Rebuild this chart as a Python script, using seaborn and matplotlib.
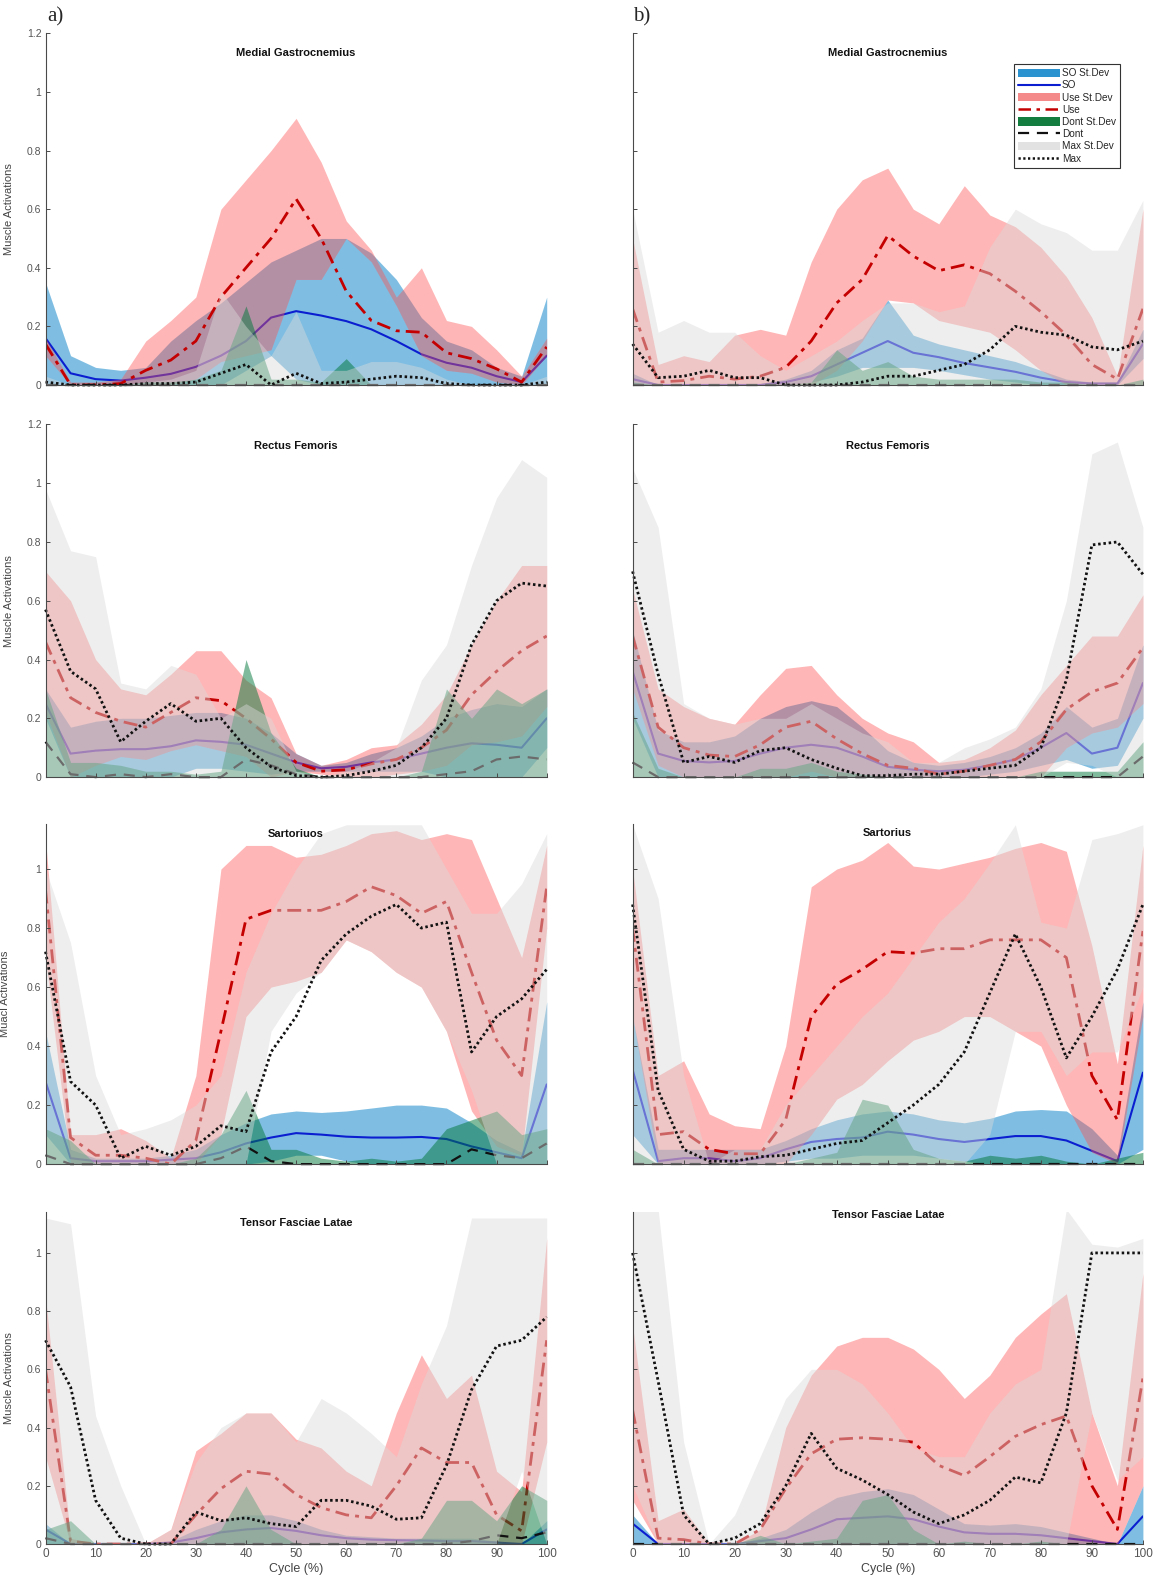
import numpy as np
import pandas as pd
import matplotlib
matplotlib.use("Agg")
import matplotlib.pyplot as plt
from matplotlib.patches import Patch
from matplotlib.lines import Line2D
from matplotlib.ticker import FuncFormatter
import seaborn as sns

# gait cycle samples (%)
cycle = [0, 5, 10, 15, 20, 25, 30, 35, 40, 45, 50, 55, 60, 65, 70, 75, 80, 85, 90, 95, 100]

# ---------------- Medial Gastrocnemius (a) ----------------
gas_a_so     = [0.16, 0.04, 0.02, 0.015, 0.025, 0.038, 0.062, 0.10, 0.15, 0.23, 0.252, 0.237, 0.218, 0.19, 0.15, 0.105, 0.076, 0.059, 0.03, 0.01, 0.10]
gas_a_so_lo  = [0.0, 0.0, 0.0, 0.0, 0.0, 0.0, 0.0, 0.0, 0.05, 0.10, 0.02, 0.0, 0.0, 0.0, 0.0, 0.0, 0.0, 0.0, 0.0, 0.0, 0.0]
gas_a_so_hi  = [0.35, 0.10, 0.06, 0.05, 0.06, 0.15, 0.22, 0.28, 0.35, 0.42, 0.46, 0.50, 0.50, 0.45, 0.36, 0.23, 0.15, 0.12, 0.06, 0.03, 0.30]
gas_a_use    = [0.14, 0.0, 0.0, 0.005, 0.05, 0.085, 0.15, 0.30, 0.40, 0.50, 0.635, 0.50, 0.32, 0.22, 0.185, 0.18, 0.11, 0.09, 0.055, 0.01, 0.13]
gas_a_use_lo = [0.10, 0.0, 0.0, 0.0, 0.0, 0.0, 0.02, 0.08, 0.10, 0.12, 0.36, 0.36, 0.50, 0.42, 0.27, 0.10, 0.05, 0.04, 0.01, 0.0, 0.10]
gas_a_use_hi = [0.16, 0.01, 0.01, 0.02, 0.15, 0.22, 0.30, 0.60, 0.70, 0.80, 0.91, 0.76, 0.56, 0.46, 0.30, 0.40, 0.22, 0.20, 0.12, 0.03, 0.16]
gas_a_dont    = [0.0, 0.0, 0.0, 0.0, 0.0, 0.0, 0.0, 0.0, 0.0, 0.0, 0.0, 0.0, 0.0, 0.0, 0.0, 0.0, 0.0, 0.0, 0.0, 0.0, 0.0]
gas_a_dont_hi = [0.0, 0.0, 0.0, 0.0, 0.01, 0.01, 0.02, 0.05, 0.27, 0.02, 0.02, 0.01, 0.09, 0.0, 0.0, 0.0, 0.0, 0.0, 0.0, 0.0, 0.0]
gas_a_max    = [0.01, 0.0, 0.0, 0.0, 0.005, 0.005, 0.01, 0.04, 0.07, 0.0, 0.04, 0.005, 0.01, 0.02, 0.03, 0.025, 0.005, 0.0, 0.0, 0.0, 0.01]
gas_a_max_lo = [0.0, 0.0, 0.0, 0.0, 0.0, 0.0, 0.0, 0.0, 0.0, 0.0, 0.0, 0.0, 0.0, 0.0, 0.0, 0.0, 0.0, 0.0, 0.0, 0.0, 0.0]
gas_a_max_hi = [0.03, 0.0, 0.0, 0.0, 0.01, 0.02, 0.05, 0.32, 0.20, 0.10, 0.25, 0.05, 0.05, 0.08, 0.08, 0.06, 0.02, 0.0, 0.0, 0.0, 0.03]

# ---------------- Medial Gastrocnemius (b) ----------------
gas_b_so     = [0.02, 0.0, 0.0, 0.0, 0.0, 0.0, 0.01, 0.03, 0.07, 0.11, 0.15, 0.11, 0.095, 0.075, 0.06, 0.045, 0.025, 0.01, 0.005, 0.005, 0.14]
gas_b_so_lo  = [0.0, 0.0, 0.0, 0.0, 0.0, 0.0, 0.0, 0.01, 0.03, 0.06, 0.06, 0.06, 0.05, 0.035, 0.02, 0.01, 0.0, 0.0, 0.0, 0.0, 0.09]
gas_b_so_hi  = [0.04, 0.0, 0.0, 0.0, 0.0, 0.005, 0.02, 0.05, 0.12, 0.16, 0.29, 0.17, 0.14, 0.12, 0.10, 0.08, 0.05, 0.02, 0.01, 0.01, 0.19]
gas_b_use    = [0.26, 0.01, 0.015, 0.03, 0.02, 0.03, 0.06, 0.15, 0.28, 0.36, 0.51, 0.44, 0.39, 0.41, 0.38, 0.32, 0.25, 0.17, 0.07, 0.02, 0.26]
gas_b_use_lo = [0.0, 0.0, 0.0, 0.0, 0.0, 0.0, 0.0, 0.0, 0.05, 0.15, 0.29, 0.28, 0.22, 0.20, 0.18, 0.12, 0.05, 0.0, 0.0, 0.0, 0.0]
gas_b_use_hi = [0.50, 0.07, 0.10, 0.08, 0.17, 0.19, 0.17, 0.42, 0.60, 0.70, 0.74, 0.60, 0.55, 0.68, 0.58, 0.54, 0.47, 0.37, 0.23, 0.03, 0.60]
gas_b_dont    = [0.0, 0.0, 0.0, 0.0, 0.0, 0.0, 0.0, 0.0, 0.0, 0.0, 0.0, 0.0, 0.0, 0.0, 0.0, 0.0, 0.0, 0.0, 0.0, 0.0, 0.0]
gas_b_dont_hi = [0.01, 0.0, 0.0, 0.0, 0.0, 0.0, 0.0, 0.01, 0.12, 0.05, 0.08, 0.03, 0.02, 0.02, 0.02, 0.02, 0.01, 0.01, 0.0, 0.0, 0.02]
gas_b_max    = [0.14, 0.025, 0.03, 0.05, 0.025, 0.025, 0.0, 0.0, 0.0, 0.01, 0.03, 0.03, 0.05, 0.07, 0.12, 0.20, 0.18, 0.17, 0.13, 0.12, 0.15]
gas_b_max_lo = [0.0, 0.0, 0.0, 0.0, 0.0, 0.0, 0.0, 0.0, 0.0, 0.0, 0.0, 0.0, 0.0, 0.0, 0.0, 0.0, 0.0, 0.0, 0.0, 0.0, 0.0]
gas_b_max_hi = [0.60, 0.18, 0.22, 0.18, 0.18, 0.10, 0.05, 0.10, 0.15, 0.22, 0.28, 0.28, 0.25, 0.27, 0.47, 0.60, 0.55, 0.52, 0.46, 0.46, 0.63]

# ---------------- Rectus Femoris (a) ----------------
rf_a_so     = [0.25, 0.08, 0.09, 0.095, 0.095, 0.105, 0.125, 0.12, 0.11, 0.08, 0.05, 0.03, 0.035, 0.05, 0.06, 0.08, 0.10, 0.115, 0.11, 0.10, 0.20]
rf_a_so_lo  = [0.20, 0.0, 0.0, 0.0, 0.0, 0.0, 0.03, 0.03, 0.02, 0.01, 0.02, 0.02, 0.02, 0.02, 0.02, 0.02, 0.0, 0.0, 0.0, 0.0, 0.10]
rf_a_so_hi  = [0.30, 0.17, 0.19, 0.20, 0.20, 0.21, 0.22, 0.22, 0.20, 0.15, 0.08, 0.04, 0.05, 0.08, 0.10, 0.14, 0.20, 0.23, 0.25, 0.24, 0.30]
rf_a_use    = [0.46, 0.27, 0.22, 0.19, 0.17, 0.22, 0.27, 0.26, 0.20, 0.13, 0.05, 0.02, 0.025, 0.045, 0.06, 0.10, 0.16, 0.28, 0.36, 0.43, 0.48]
rf_a_use_lo = [0.22, 0.0, 0.04, 0.07, 0.06, 0.09, 0.11, 0.09, 0.07, 0.0, 0.02, 0.01, 0.0, 0.0, 0.01, 0.02, 0.04, 0.11, 0.12, 0.14, 0.24]
rf_a_use_hi = [0.70, 0.60, 0.40, 0.30, 0.28, 0.35, 0.43, 0.43, 0.33, 0.27, 0.08, 0.04, 0.06, 0.10, 0.11, 0.18, 0.28, 0.45, 0.60, 0.72, 0.72]
rf_a_dont    = [0.12, 0.01, 0.0, 0.01, 0.0, 0.01, 0.0, 0.0, 0.06, 0.04, 0.01, 0.0, 0.0, 0.0, 0.0, 0.0, 0.01, 0.02, 0.06, 0.07, 0.06]
rf_a_dont_hi = [0.30, 0.05, 0.05, 0.04, 0.02, 0.02, 0.01, 0.02, 0.40, 0.15, 0.03, 0.0, 0.0, 0.0, 0.0, 0.02, 0.30, 0.20, 0.30, 0.25, 0.30]
rf_a_max    = [0.57, 0.36, 0.30, 0.12, 0.19, 0.25, 0.19, 0.20, 0.10, 0.035, 0.005, 0.0, 0.005, 0.02, 0.04, 0.10, 0.20, 0.45, 0.60, 0.66, 0.65]
rf_a_max_lo = [0.0, 0.0, 0.0, 0.0, 0.0, 0.0, 0.0, 0.0, 0.0, 0.0, 0.0, 0.0, 0.0, 0.0, 0.0, 0.0, 0.0, 0.0, 0.0, 0.0, 0.0]
rf_a_max_hi = [0.98, 0.77, 0.75, 0.32, 0.30, 0.38, 0.35, 0.20, 0.25, 0.20, 0.02, 0.0, 0.02, 0.05, 0.10, 0.33, 0.45, 0.72, 0.95, 1.08, 1.02]

# ---------------- Rectus Femoris (b) ----------------
rf_b_so     = [0.36, 0.08, 0.055, 0.05, 0.055, 0.08, 0.10, 0.11, 0.10, 0.07, 0.035, 0.025, 0.02, 0.025, 0.04, 0.06, 0.10, 0.15, 0.08, 0.10, 0.32]
rf_b_so_lo  = [0.20, 0.0, 0.0, 0.0, 0.0, 0.0, 0.0, 0.0, 0.0, 0.0, 0.0, 0.0, 0.0, 0.0, 0.01, 0.02, 0.04, 0.06, 0.03, 0.04, 0.20]
rf_b_so_hi  = [0.50, 0.16, 0.12, 0.12, 0.14, 0.20, 0.24, 0.26, 0.24, 0.17, 0.09, 0.05, 0.04, 0.05, 0.07, 0.10, 0.15, 0.24, 0.17, 0.20, 0.45]
rf_b_use    = [0.48, 0.17, 0.10, 0.075, 0.07, 0.11, 0.17, 0.19, 0.13, 0.08, 0.04, 0.03, 0.01, 0.02, 0.04, 0.06, 0.12, 0.23, 0.29, 0.32, 0.44]
rf_b_use_lo = [0.30, 0.04, 0.0, 0.0, 0.0, 0.0, 0.0, 0.02, 0.0, 0.0, 0.0, 0.0, 0.0, 0.0, 0.0, 0.0, 0.0, 0.10, 0.15, 0.17, 0.25]
rf_b_use_hi = [0.64, 0.30, 0.24, 0.20, 0.18, 0.28, 0.37, 0.38, 0.28, 0.20, 0.15, 0.12, 0.05, 0.06, 0.10, 0.16, 0.28, 0.38, 0.48, 0.48, 0.62]
rf_b_dont    = [0.05, 0.0, 0.0, 0.0, 0.0, 0.0, 0.0, 0.0, 0.0, 0.0, 0.0, 0.0, 0.0, 0.0, 0.0, 0.0, 0.0, 0.0, 0.0, 0.0, 0.07]
rf_b_dont_hi = [0.22, 0.03, 0.0, 0.0, 0.0, 0.03, 0.03, 0.05, 0.02, 0.01, 0.0, 0.0, 0.0, 0.0, 0.0, 0.0, 0.02, 0.02, 0.02, 0.02, 0.12]
rf_b_max    = [0.70, 0.35, 0.05, 0.07, 0.05, 0.09, 0.10, 0.06, 0.03, 0.005, 0.005, 0.01, 0.01, 0.02, 0.03, 0.04, 0.10, 0.33, 0.79, 0.80, 0.69]
rf_b_max_lo = [0.0, 0.0, 0.0, 0.0, 0.0, 0.0, 0.0, 0.0, 0.0, 0.0, 0.0, 0.0, 0.0, 0.0, 0.0, 0.0, 0.0, 0.05, 0.04, 0.0, 0.0]
rf_b_max_hi = [1.05, 0.85, 0.25, 0.20, 0.18, 0.20, 0.20, 0.25, 0.20, 0.15, 0.12, 0.05, 0.05, 0.10, 0.13, 0.17, 0.30, 0.60, 1.10, 1.14, 0.85]

# ---------------- Sartorius (a) ----------------
sar_a_so     = [0.28, 0.02, 0.01, 0.01, 0.01, 0.015, 0.02, 0.04, 0.07, 0.09, 0.105, 0.10, 0.093, 0.09, 0.09, 0.092, 0.085, 0.06, 0.04, 0.02, 0.27]
sar_a_so_lo  = [0.10, 0.0, 0.0, 0.0, 0.0, 0.0, 0.0, 0.0, 0.0, 0.01, 0.03, 0.03, 0.01, 0.0, 0.0, 0.0, 0.0, 0.0, 0.0, 0.0, 0.0]
sar_a_so_hi  = [0.45, 0.05, 0.02, 0.02, 0.02, 0.03, 0.05, 0.10, 0.14, 0.17, 0.18, 0.175, 0.18, 0.19, 0.20, 0.20, 0.19, 0.14, 0.08, 0.04, 0.55]
sar_a_use    = [0.93, 0.09, 0.03, 0.03, 0.02, 0.0, 0.08, 0.45, 0.83, 0.86, 0.86, 0.86, 0.89, 0.94, 0.91, 0.85, 0.89, 0.65, 0.42, 0.30, 0.94]
sar_a_use_lo = [0.70, 0.0, 0.0, 0.0, 0.0, 0.0, 0.0, 0.10, 0.50, 0.60, 0.62, 0.65, 0.76, 0.72, 0.65, 0.60, 0.45, 0.18, 0.06, 0.03, 0.80]
sar_a_use_hi = [1.10, 0.10, 0.10, 0.12, 0.08, 0.02, 0.30, 1.00, 1.08, 1.08, 1.04, 1.05, 1.08, 1.12, 1.13, 1.10, 1.12, 1.10, 0.90, 0.70, 1.08]
sar_a_dont    = [0.03, 0.0, 0.0, 0.0, 0.0, 0.0, 0.0, 0.02, 0.06, 0.01, 0.0, 0.0, 0.0, 0.0, 0.0, 0.0, 0.0, 0.05, 0.03, 0.02, 0.07]
sar_a_dont_hi = [0.12, 0.08, 0.0, 0.0, 0.0, 0.0, 0.02, 0.10, 0.25, 0.05, 0.05, 0.02, 0.01, 0.02, 0.01, 0.02, 0.12, 0.15, 0.18, 0.10, 0.12]
sar_a_max    = [0.72, 0.28, 0.20, 0.02, 0.06, 0.03, 0.06, 0.13, 0.11, 0.38, 0.50, 0.69, 0.78, 0.84, 0.88, 0.80, 0.82, 0.38, 0.50, 0.56, 0.66]
sar_a_max_lo = [0.0, 0.0, 0.0, 0.0, 0.0, 0.0, 0.0, 0.0, 0.0, 0.45, 0.58, 0.65, 0.76, 0.72, 0.65, 0.60, 0.45, 0.25, 0.0, 0.0, 0.0]
sar_a_max_hi = [1.00, 0.75, 0.30, 0.10, 0.12, 0.15, 0.20, 0.30, 0.65, 0.85, 1.00, 1.12, 1.15, 1.15, 1.15, 1.15, 1.00, 0.85, 0.85, 0.95, 1.12]

# ---------------- Sartorius (b) ----------------
sar_b_so     = [0.32, 0.01, 0.02, 0.02, 0.01, 0.02, 0.05, 0.075, 0.085, 0.09, 0.11, 0.10, 0.085, 0.075, 0.085, 0.095, 0.095, 0.08, 0.045, 0.01, 0.31]
sar_b_so_lo  = [0.10, 0.0, 0.0, 0.0, 0.0, 0.0, 0.01, 0.02, 0.02, 0.03, 0.03, 0.03, 0.02, 0.01, 0.0, 0.0, 0.0, 0.0, 0.0, 0.0, 0.05]
sar_b_so_hi  = [0.50, 0.05, 0.05, 0.05, 0.05, 0.05, 0.08, 0.12, 0.15, 0.17, 0.18, 0.17, 0.15, 0.14, 0.155, 0.18, 0.185, 0.18, 0.12, 0.03, 0.55]
sar_b_use    = [0.80, 0.10, 0.11, 0.05, 0.035, 0.035, 0.15, 0.50, 0.61, 0.66, 0.72, 0.715, 0.73, 0.73, 0.76, 0.76, 0.76, 0.70, 0.30, 0.15, 0.79]
sar_b_use_lo = [0.50, 0.0, 0.0, 0.0, 0.0, 0.0, 0.0, 0.10, 0.22, 0.27, 0.35, 0.42, 0.45, 0.50, 0.50, 0.45, 0.40, 0.20, 0.04, 0.0, 0.50]
sar_b_use_hi = [1.00, 0.30, 0.35, 0.17, 0.13, 0.12, 0.40, 0.94, 1.00, 1.03, 1.09, 1.01, 1.00, 1.02, 1.04, 1.07, 1.09, 1.06, 0.74, 0.34, 1.08]
sar_b_dont    = [0.0, 0.0, 0.0, 0.0, 0.0, 0.0, 0.0, 0.0, 0.0, 0.0, 0.0, 0.0, 0.0, 0.0, 0.0, 0.0, 0.0, 0.0, 0.0, 0.0, 0.0]
sar_b_dont_hi = [0.05, 0.0, 0.0, 0.0, 0.0, 0.0, 0.0, 0.02, 0.04, 0.22, 0.20, 0.05, 0.02, 0.01, 0.03, 0.02, 0.03, 0.01, 0.0, 0.02, 0.04]
sar_b_max    = [0.88, 0.25, 0.05, 0.01, 0.01, 0.025, 0.03, 0.05, 0.07, 0.08, 0.14, 0.20, 0.27, 0.38, 0.58, 0.78, 0.60, 0.36, 0.50, 0.66, 0.88]
sar_b_max_lo = [0.0, 0.0, 0.0, 0.0, 0.0, 0.0, 0.0, 0.0, 0.0, 0.0, 0.0, 0.0, 0.0, 0.0, 0.10, 0.45, 0.45, 0.30, 0.38, 0.38, 0.60]
sar_b_max_hi = [1.15, 0.90, 0.30, 0.0, 0.05, 0.05, 0.20, 0.30, 0.40, 0.50, 0.58, 0.70, 0.82, 0.90, 1.02, 1.15, 0.82, 0.80, 1.10, 1.12, 1.15]

# ---------------- Tensor Fasciae Latae (a) ----------------
tfl_a_so     = [0.05, 0.0, 0.0, 0.0, 0.0, 0.005, 0.02, 0.04, 0.05, 0.055, 0.045, 0.03, 0.02, 0.015, 0.013, 0.012, 0.01, 0.01, 0.005, 0.0, 0.05]
tfl_a_so_lo  = [0.0, 0.0, 0.0, 0.0, 0.0, 0.0, 0.0, 0.0, 0.0, 0.0, 0.0, 0.0, 0.0, 0.0, 0.0, 0.0, 0.0, 0.0, 0.0, 0.0, 0.0]
tfl_a_so_hi  = [0.07, 0.0, 0.0, 0.0, 0.0, 0.01, 0.05, 0.08, 0.10, 0.10, 0.08, 0.05, 0.03, 0.025, 0.02, 0.02, 0.02, 0.02, 0.01, 0.0, 0.08]
tfl_a_use    = [0.60, 0.01, 0.0, 0.0, 0.0, 0.0, 0.10, 0.19, 0.25, 0.24, 0.17, 0.125, 0.10, 0.09, 0.20, 0.33, 0.28, 0.28, 0.10, 0.045, 0.70]
tfl_a_use_lo = [0.30, 0.0, 0.0, 0.0, 0.0, 0.0, 0.0, 0.0, 0.0, 0.0, 0.0, 0.0, 0.0, 0.0, 0.0, 0.0, 0.0, 0.0, 0.0, 0.0, 0.35]
tfl_a_use_hi = [0.85, 0.02, 0.0, 0.0, 0.0, 0.05, 0.32, 0.38, 0.45, 0.45, 0.36, 0.33, 0.25, 0.20, 0.45, 0.65, 0.50, 0.58, 0.25, 0.18, 1.05]
tfl_a_dont    = [0.02, 0.0, 0.0, 0.0, 0.0, 0.0, 0.0, 0.0, 0.0, 0.0, 0.0, 0.0, 0.0, 0.0, 0.0, 0.0, 0.0, 0.01, 0.03, 0.02, 0.04]
tfl_a_dont_hi = [0.05, 0.08, 0.0, 0.0, 0.0, 0.0, 0.0, 0.05, 0.20, 0.05, 0.0, 0.0, 0.0, 0.0, 0.0, 0.02, 0.15, 0.15, 0.08, 0.20, 0.15]
tfl_a_max    = [0.70, 0.54, 0.15, 0.02, 0.0, 0.0, 0.11, 0.08, 0.09, 0.07, 0.06, 0.15, 0.15, 0.13, 0.085, 0.09, 0.27, 0.53, 0.68, 0.70, 0.78]
tfl_a_max_lo = [0.0, 0.0, 0.0, 0.0, 0.0, 0.0, 0.0, 0.0, 0.0, 0.0, 0.0, 0.0, 0.0, 0.0, 0.0, 0.0, 0.0, 0.0, 0.0, 0.25, 0.0]
tfl_a_max_hi = [1.12, 1.10, 0.44, 0.20, 0.0, 0.05, 0.28, 0.40, 0.45, 0.45, 0.35, 0.50, 0.45, 0.38, 0.30, 0.55, 0.75, 1.12, 1.12, 1.12, 1.12]

# ---------------- Tensor Fasciae Latae (b) ----------------
tfl_b_so     = [0.07, 0.0, 0.0, 0.0, 0.0, 0.01, 0.02, 0.05, 0.085, 0.09, 0.095, 0.085, 0.06, 0.04, 0.035, 0.035, 0.03, 0.02, 0.01, 0.0, 0.095]
tfl_b_so_lo  = [0.0, 0.0, 0.0, 0.0, 0.0, 0.0, 0.0, 0.0, 0.0, 0.0, 0.0, 0.0, 0.0, 0.0, 0.0, 0.0, 0.0, 0.0, 0.0, 0.0, 0.0]
tfl_b_so_hi  = [0.10, 0.0, 0.0, 0.0, 0.0, 0.02, 0.05, 0.11, 0.16, 0.18, 0.19, 0.17, 0.12, 0.07, 0.065, 0.07, 0.06, 0.04, 0.02, 0.0, 0.20]
tfl_b_use    = [0.46, 0.02, 0.015, 0.0, 0.0, 0.05, 0.19, 0.31, 0.36, 0.365, 0.36, 0.35, 0.27, 0.235, 0.30, 0.37, 0.41, 0.44, 0.20, 0.05, 0.57]
tfl_b_use_lo = [0.15, 0.0, 0.0, 0.0, 0.0, 0.0, 0.0, 0.0, 0.0, 0.0, 0.0, 0.0, 0.0, 0.0, 0.0, 0.0, 0.0, 0.0, 0.0, 0.0, 0.20]
tfl_b_use_hi = [0.75, 0.08, 0.12, 0.0, 0.0, 0.05, 0.40, 0.58, 0.68, 0.71, 0.71, 0.67, 0.60, 0.50, 0.58, 0.71, 0.79, 0.86, 0.45, 0.20, 0.93]
tfl_b_dont    = [0.0, 0.0, 0.0, 0.0, 0.0, 0.0, 0.0, 0.0, 0.0, 0.0, 0.0, 0.0, 0.0, 0.0, 0.0, 0.0, 0.0, 0.0, 0.0, 0.0, 0.0]
tfl_b_dont_hi = [0.0, 0.0, 0.0, 0.0, 0.0, 0.03, 0.0, 0.01, 0.02, 0.15, 0.17, 0.05, 0.0, 0.01, 0.0, 0.0, 0.01, 0.0, 0.0, 0.0, 0.0]
tfl_b_max    = [1.00, 0.56, 0.10, 0.0, 0.02, 0.07, 0.20, 0.38, 0.26, 0.22, 0.17, 0.11, 0.07, 0.10, 0.15, 0.23, 0.21, 0.45, 1.00, 1.00, 1.00]
tfl_b_max_lo = [0.20, 0.0, 0.0, 0.0, 0.0, 0.0, 0.0, 0.0, 0.0, 0.0, 0.0, 0.0, 0.0, 0.0, 0.0, 0.0, 0.0, 0.0, 0.45, 0.22, 0.30]
tfl_b_max_hi = [1.15, 1.15, 0.35, 0.0, 0.10, 0.30, 0.50, 0.60, 0.60, 0.55, 0.45, 0.33, 0.30, 0.30, 0.45, 0.55, 0.60, 1.15, 1.03, 1.02, 1.05]

titles = ["Medial Gastrocnemius", "Medial Gastrocnemius", "Rectus Femoris", "Rectus Femoris",
          "Sartoriuos", "Sartorius", "Tensor Fasciae Latae", "Tensor Fasciae Latae"]
ylabels = ["Muscle Activations", "Muscle Activations", "Muacl Activations", "Muscle Activations"]
legend_labels = ["SO St.Dev", "SO", "Use St.Dev", "Use", "Dont St.Dev", "Dont", "Max St.Dev", "Max"]

# ---------------- styling ----------------
sns.set_style("ticks")
plt.rcParams["font.family"] = ["Liberation Sans", "DejaVu Sans"]

SO_FILL, SO_LINE = "#0a84c8", "#0b1fd0"
USE_FILL, USE_LINE = "#ff5252", "#c40000"
DONT_FILL, DONT_LINE = "#00773a", "#111111"
MAX_FILL, MAX_LINE = "#dadada", "#111111"
USE_DASH = (0, (5, 2.2, 1.4, 2.2))
DONT_DASH = (0, (5, 3.5))
MAX_DASH = (0, (0.9, 1.0))
AXIS_GREY = "#4a4a4a"

W, H = 1159, 1585
col_px = [(45.5, 546.7), (632.6, 1142.9)]
row_px = [(33.3, 385.0), (424.4, 777.1), (823.6, 1164.1), (1211.6, 1544.0)]
row_ytop = [1.2, 1.2, 1.154, 1.142]
title_y = [[0.944, 0.944], [0.94, 0.94], [0.969, 0.972], [0.967, 0.99]]

panels = [
    [dict(so=gas_a_so, so_lo=gas_a_so_lo, so_hi=gas_a_so_hi, use=gas_a_use, use_lo=gas_a_use_lo, use_hi=gas_a_use_hi,
          dont=gas_a_dont, dont_hi=gas_a_dont_hi, mx=gas_a_max, mx_lo=gas_a_max_lo, mx_hi=gas_a_max_hi),
     dict(so=gas_b_so, so_lo=gas_b_so_lo, so_hi=gas_b_so_hi, use=gas_b_use, use_lo=gas_b_use_lo, use_hi=gas_b_use_hi,
          dont=gas_b_dont, dont_hi=gas_b_dont_hi, mx=gas_b_max, mx_lo=gas_b_max_lo, mx_hi=gas_b_max_hi)],
    [dict(so=rf_a_so, so_lo=rf_a_so_lo, so_hi=rf_a_so_hi, use=rf_a_use, use_lo=rf_a_use_lo, use_hi=rf_a_use_hi,
          dont=rf_a_dont, dont_hi=rf_a_dont_hi, mx=rf_a_max, mx_lo=rf_a_max_lo, mx_hi=rf_a_max_hi),
     dict(so=rf_b_so, so_lo=rf_b_so_lo, so_hi=rf_b_so_hi, use=rf_b_use, use_lo=rf_b_use_lo, use_hi=rf_b_use_hi,
          dont=rf_b_dont, dont_hi=rf_b_dont_hi, mx=rf_b_max, mx_lo=rf_b_max_lo, mx_hi=rf_b_max_hi)],
    [dict(so=sar_a_so, so_lo=sar_a_so_lo, so_hi=sar_a_so_hi, use=sar_a_use, use_lo=sar_a_use_lo, use_hi=sar_a_use_hi,
          dont=sar_a_dont, dont_hi=sar_a_dont_hi, mx=sar_a_max, mx_lo=sar_a_max_lo, mx_hi=sar_a_max_hi),
     dict(so=sar_b_so, so_lo=sar_b_so_lo, so_hi=sar_b_so_hi, use=sar_b_use, use_lo=sar_b_use_lo, use_hi=sar_b_use_hi,
          dont=sar_b_dont, dont_hi=sar_b_dont_hi, mx=sar_b_max, mx_lo=sar_b_max_lo, mx_hi=sar_b_max_hi)],
    [dict(so=tfl_a_so, so_lo=tfl_a_so_lo, so_hi=tfl_a_so_hi, use=tfl_a_use, use_lo=tfl_a_use_lo, use_hi=tfl_a_use_hi,
          dont=tfl_a_dont, dont_hi=tfl_a_dont_hi, mx=tfl_a_max, mx_lo=tfl_a_max_lo, mx_hi=tfl_a_max_hi),
     dict(so=tfl_b_so, so_lo=tfl_b_so_lo, so_hi=tfl_b_so_hi, use=tfl_b_use, use_lo=tfl_b_use_lo, use_hi=tfl_b_use_hi,
          dont=tfl_b_dont, dont_hi=tfl_b_dont_hi, mx=tfl_b_max, mx_lo=tfl_b_max_lo, mx_hi=tfl_b_max_hi)],
]


def draw_panel(ax, p):
    df = pd.DataFrame({"cycle": cycle, **{k: v for k, v in p.items()}})
    x = df["cycle"]
    # each band is laid over the previous mean line, so earlier lines show through tinted
    ax.fill_between(x, df["so_lo"], df["so_hi"], color=SO_FILL, alpha=0.52, linewidth=0, zorder=1)
    sns.lineplot(data=df, x="cycle", y="so", ax=ax, color=SO_LINE, linewidth=1.5, zorder=2)
    ax.fill_between(x, df["use_lo"], df["use_hi"], color=USE_FILL, alpha=0.42, linewidth=0, zorder=3)
    sns.lineplot(data=df, x="cycle", y="use", ax=ax, color=USE_LINE, linewidth=2.0,
                 linestyle=USE_DASH, zorder=4)
    ax.fill_between(x, 0, df["dont_hi"], color=DONT_FILL, alpha=0.5, linewidth=0, zorder=5)
    sns.lineplot(data=df, x="cycle", y="dont", ax=ax, color=DONT_LINE, linewidth=1.6,
                 linestyle=DONT_DASH, zorder=6, clip_on=False)
    ax.fill_between(x, df["mx_lo"], df["mx_hi"], color=MAX_FILL, alpha=0.45, linewidth=0, zorder=7)
    sns.lineplot(data=df, x="cycle", y="mx", ax=ax, color=MAX_LINE, linewidth=2.0,
                 linestyle=MAX_DASH, zorder=8, clip_on=False)


fig = plt.figure(figsize=(W / 100, H / 100), dpi=100)

for r in range(4):
    for c in range(2):
        x0, x1 = col_px[c]
        y0, y1 = row_px[r]
        ax = fig.add_axes([x0 / W, 1 - y1 / H, (x1 - x0) / W, (y1 - y0) / H])
        draw_panel(ax, panels[r][c])

        ytop = row_ytop[r]
        ax.set_xlim(0, 100)
        ax.set_ylim(0, ytop)
        ax.set_xticks(range(0, 101, 10))
        ax.set_yticks([0, 0.2, 0.4, 0.6, 0.8, 1.0, 1.2] if ytop >= 1.2 else [0, 0.2, 0.4, 0.6, 0.8, 1.0])
        ax.yaxis.set_major_formatter(FuncFormatter(lambda v, _: f"{v:g}"))
        sns.despine(ax=ax)
        for s in ("left", "bottom"):
            ax.spines[s].set_color(AXIS_GREY)
            ax.spines[s].set_linewidth(0.8)
            ax.spines[s].set_zorder(9)
        ax.xaxis.set_zorder(9)
        ax.yaxis.set_zorder(9)
        ax.tick_params(direction="in", length=3, width=0.7, color=AXIS_GREY,
                       labelcolor="#555555", labelsize=7.5, pad=3)
        ax.tick_params(axis="x", labelsize=8.5)
        ax.set_xlabel("")
        ax.set_ylabel("")
        if c == 1:
            ax.tick_params(labelleft=False)
        else:
            ax.set_ylabel(ylabels[r], fontsize=8, color="#444444")
            ax.yaxis.set_label_coords(-0.062 if r != 2 else -0.07, 0.5)
        if r < 3:
            ax.tick_params(labelbottom=False)
        else:
            ax.set_xlabel("Cycle (%)", fontsize=9, color="#444444", labelpad=2)

        ax.text(0.5, title_y[r][c], titles[2 * r + c], transform=ax.transAxes,
                ha="center", va="center", fontsize=8, fontweight="bold", color="#111111", zorder=12)

        if r == 0 and c == 1:
            handles = [
                Patch(facecolor="#2a93d0", edgecolor="none"),
                Line2D([], [], color=SO_LINE, linewidth=1.5),
                Patch(facecolor="#f58a8a", edgecolor="none"),
                Line2D([], [], color=USE_LINE, linewidth=1.8, linestyle=USE_DASH),
                Patch(facecolor="#127d3e", edgecolor="none"),
                Line2D([], [], color=DONT_LINE, linewidth=1.6, linestyle=DONT_DASH),
                Patch(facecolor="#e2e2e2", edgecolor="none"),
                Line2D([], [], color=MAX_LINE, linewidth=1.8, linestyle=MAX_DASH),
            ]
            leg = ax.legend(handles, legend_labels, loc="upper right", bbox_to_anchor=(0.955, 0.912),
                            fontsize=7.2, frameon=True, fancybox=False, framealpha=1,
                            edgecolor="#333333", handlelength=4.2, handleheight=0.9,
                            handletextpad=0.2, labelspacing=0.22, borderpad=0.4, borderaxespad=0)
            leg.get_frame().set_linewidth(0.8)
            leg.set_zorder(20)

fig.text(47.5 / W, 1 - 17 / H, "a)", family=["Liberation Serif", "DejaVu Serif"], fontsize=15,
         ha="left", va="center")
fig.text(633.5 / W, 1 - 17 / H, "b)", family=["Liberation Serif", "DejaVu Serif"], fontsize=15,
         ha="left", va="center")

fig.savefig("out.png", dpi=100)
